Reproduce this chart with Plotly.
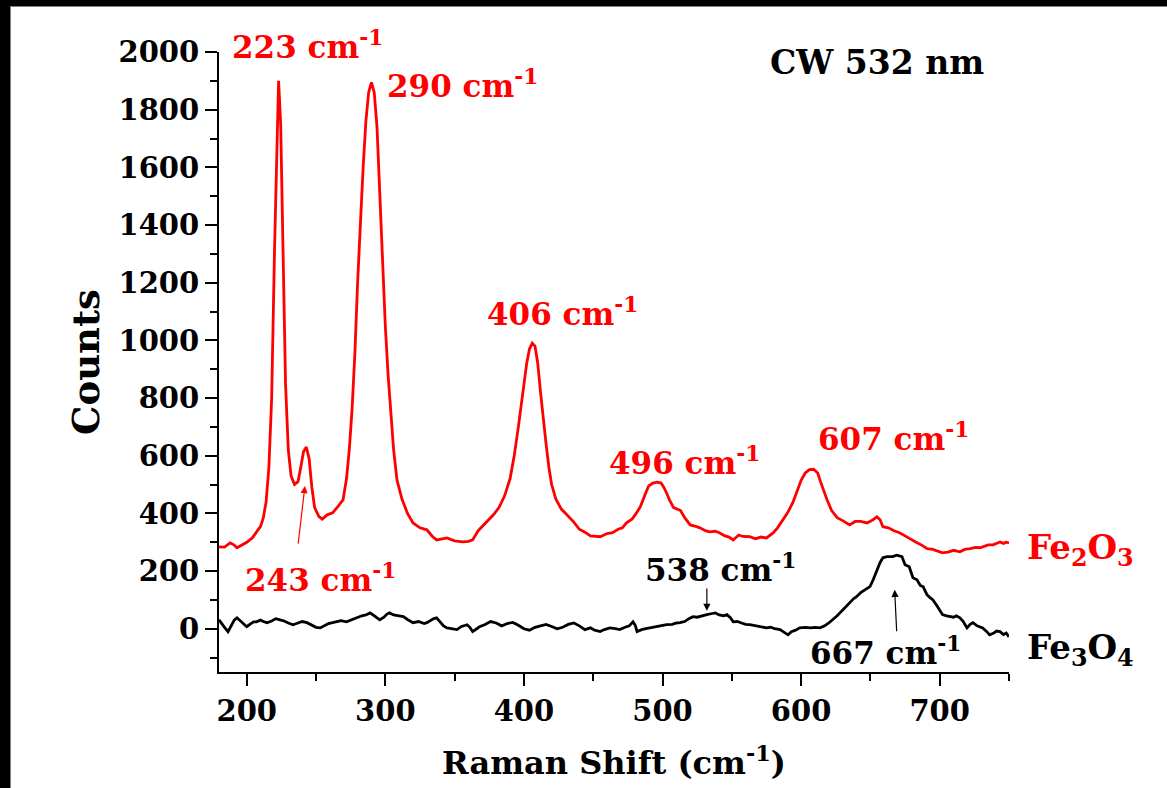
import plotly.graph_objects as go

# Raman spectra (Raman shift in cm^-1, counts)
x_fe2o3 = [180, 184, 188, 191, 193, 196, 200, 204, 207, 210, 212, 214, 216, 218, 220, 221.5, 223, 224.5, 226, 228,
           230, 232, 234.5, 237, 239, 241, 243, 245, 247, 249, 252, 254.5, 258, 262, 266, 269.5, 272, 274, 276, 278,
           280, 282, 284, 286, 288, 290, 292, 294, 296, 298, 300, 302, 304, 306, 308.4, 312, 316, 320, 325, 330,
           334, 337, 341, 344.5, 350, 356, 360, 363, 367, 370, 374, 378, 382, 386, 390, 393, 396, 399, 402, 404,
           406, 408, 410, 412, 414, 416, 418, 420, 423, 427, 431, 436, 440, 444, 448, 452, 455, 460, 464, 468,
           471, 474, 478, 481, 484, 487, 490, 493, 496, 499, 501, 503, 505, 508, 511, 513, 516, 520, 524, 527,
           531, 534, 538, 541, 545, 548, 551, 555, 558, 563, 567, 571, 575, 578, 580, 583, 587, 590, 594, 597,
           600, 603, 606, 609, 612, 614, 616, 618.7, 622, 626, 630, 635, 639, 643, 647.5, 651, 654.7, 657, 659, 663,
           667, 671, 675, 679, 683, 687, 691, 695, 699, 702, 706, 710, 714.6, 718, 722, 726, 729, 732, 735, 738.5,
           741, 743.5, 746, 748, 750]
y_fe2o3 = [284, 283, 298, 290, 281, 288, 300, 315, 335, 355, 385, 440, 560, 800, 1300, 1650, 1900, 1750, 1300, 850,
           620, 530, 500, 510, 560, 615, 630, 590, 490, 420, 390, 380, 395, 402, 425, 447, 520, 620, 760, 950,
           1200, 1420, 1600, 1760, 1860, 1895, 1860, 1740, 1520, 1250, 1050, 880, 740, 620, 516, 450, 400, 367, 350, 343,
           320, 308, 312, 315, 305, 301, 303, 308, 340, 355, 375, 395, 420, 460, 520, 600, 700, 810, 920, 970,
           990, 980, 920, 820, 720, 640, 560, 500, 450, 415, 395, 370, 345, 335, 322, 320, 319, 330, 333, 345,
           350, 367, 380, 400, 423, 460, 495, 505, 508, 505, 490, 470, 447, 420, 415, 410, 385, 360, 355, 350,
           340, 336, 338, 333, 322, 318, 308, 325, 320, 319, 312, 318, 315, 326, 333, 350, 378, 400, 437, 480,
           515, 540, 552, 553, 540, 510, 480, 447, 410, 385, 375, 360, 372, 372, 367, 375, 388, 378, 354, 350,
           340, 333, 322, 310, 300, 290, 278, 275, 268, 263, 266, 272, 267, 275, 278, 282, 281, 287, 291, 291,
           297, 301, 296, 300, 298]

x_fe3o4 = [180, 182, 184, 186.5, 189, 191, 193, 196, 198, 200, 203, 205, 207, 210, 212, 214.6, 218, 221, 224, 227,
           230, 233.4, 236, 240, 243.5, 246, 248, 250, 253, 256, 259, 262, 265, 268, 272, 275, 279.6, 283, 286, 289,
           292, 294, 296, 299, 301, 303, 306, 310, 313, 316, 318, 320, 324, 328, 330, 333, 335, 337, 340, 342,
           344.5, 348, 351.7, 355, 359, 361, 363, 366, 368, 372, 376, 380, 384, 388, 392, 396, 400, 404, 408, 412,
           416, 420, 424, 428, 432, 436, 440, 444, 448, 451, 455, 458, 462, 466, 469, 473, 476, 478.7, 480.5, 481.6,
           485, 488, 491, 495, 499, 503, 507, 510, 512.6, 516, 519, 522, 525, 528, 532, 535, 538, 541, 544, 546.5,
           549, 551, 554, 557, 560, 563, 567, 571, 575, 578, 581, 584.8, 587, 590.5, 593, 596, 599, 603, 607, 610,
           613.6, 617, 620, 623, 626, 628, 630, 633, 636, 638, 640, 643, 646, 649.7, 652, 654.7, 657, 659, 662, 666,
           669, 672.8, 675, 678, 680.7, 683.6, 686, 688, 690.8, 693, 695, 698, 700, 702, 705, 707, 710, 712, 714.6,
           717, 719.7, 722, 724, 727, 731, 734, 736, 739, 741, 743.5, 746, 748, 750]
y_fe3o4 = [31, 20, 5, -10, 15, 30, 38, 25, 15, 7, 18, 24, 24, 30, 25, 21, 27, 35, 31, 27,
           20, 14, 18, 25, 21, 15, 10, 5, 3, 10, 18, 21, 25, 28, 24, 30, 38, 45, 48, 55,
           45, 38, 31, 40, 50, 55, 48, 45, 42, 32, 25, 21, 25, 18, 21, 30, 35, 38, 20, 10,
           3, 0, -3, 8, 14, 5, -10, 0, 7, 15, 25, 20, 10, 18, 22, 12, 0, -5, 5, 10,
           15, 8, 0, 5, 15, 20, 10, -3, 3, -5, -10, -3, 3, 0, -3, 5, 10, 24, 10, -10,
           -3, 0, 3, 8, 12, 14, 15, 20, 21, 25, 35, 42, 40, 45, 49, 52, 55, 48, 45, 49,
           38, 24, 25, 20, 15, 14, 10, 8, 3, 5, 0, -3, -10, -21, -10, -5, 3, 5, 3, 5,
           3, 10, 20, 31, 45, 55, 66, 80, 95, 105, 111, 125, 135, 146, 170, 204, 230, 246, 250, 250,
           255, 250, 222, 215, 177, 170, 150, 146, 118, 108, 101, 80, 65, 49, 45, 42, 40, 45, 38,
           25, 3, 15, 21, 10, 3, -10, -21, -15, -8, -10, -20, -15, -28]

y_ticks = [0, 200, 400, 600, 800, 1000, 1200, 1400, 1600, 1800, 2000]
x_ticks = [200, 300, 400, 500, 600, 700]

RED = "#ff0000"
BLACK = "#000000"
FONT = "DejaVu Serif"
LABEL_SIZE = 31

# Page and plot-area geometry in pixels
W, H = 1167, 788
L, R, T, B = 219, 158, 52, 116
pw, ph = W - L - R, H - T - B


def px_x(p):
    return (p - L) / pw


def px_y(p):
    return (H - B - p) / ph


fig = go.Figure()
fig.add_trace(go.Scatter(x=x_fe2o3, y=y_fe2o3, mode="lines",
                         line=dict(color=RED, width=2.8), showlegend=False))
fig.add_trace(go.Scatter(x=x_fe3o4, y=y_fe3o4, mode="lines",
                         line=dict(color=BLACK, width=2.8), showlegend=False))

axis_common = dict(
    showgrid=False, zeroline=False, showline=True, linecolor=BLACK, linewidth=2,
    ticks="outside", ticklen=12, tickwidth=2, tickcolor=BLACK,
    tickfont=dict(family=FONT, size=29, color=BLACK, weight="bold"),
    mirror=False,
)

fig.update_xaxes(range=[180, 750], tickvals=x_ticks,
                 minor=dict(dtick=50, tick0=0, ticks="outside", ticklen=7, tickwidth=2, tickcolor=BLACK),
                 title=dict(text="Raman Shift (cm<sup>-1</sup>)", standoff=25,
                            font=dict(family=FONT, size=32, color=BLACK, weight="bold")),
                 **axis_common)
fig.update_yaxes(range=[-150, 2000], tickvals=y_ticks,
                 minor=dict(dtick=100, tick0=0, ticks="outside", ticklen=7, tickwidth=2, tickcolor=BLACK),
                 title=dict(text="Counts", standoff=8,
                            font=dict(family=FONT, size=37, color=BLACK, weight="bold")),
                 **axis_common)


def label(text, x, y, color, xref="x", yref="y", size=LABEL_SIZE):
    fig.add_annotation(text=text, x=x, y=y, xref=xref, yref=yref, showarrow=False,
                       xanchor="left", yanchor="middle",
                       font=dict(family=FONT, size=size, color=color, weight="bold"))


def arrow(x_head, y_head, x_tail, y_tail, color):
    fig.add_annotation(text="", x=x_head, y=y_head, ax=x_tail, ay=y_tail,
                       xref="x", yref="y", axref="x", ayref="y",
                       showarrow=True, arrowhead=2, arrowsize=1.2, arrowwidth=1.2,
                       arrowcolor=color)


# Peak labels
label("223 cm<sup>-1</sup>", 188, px_y(45), RED, yref="paper")
label("290 cm<sup>-1</sup>", 300, 1890, RED)
label("406 cm<sup>-1</sup>", 372, 1100, RED)
label("496 cm<sup>-1</sup>", 460, 582, RED)
label("607 cm<sup>-1</sup>", 611, 664, RED)
label("243 cm<sup>-1</sup>", 197, 177, RED)
label("538 cm<sup>-1</sup>", 486, 212, BLACK)
label("667 cm<sup>-1</sup>", 605, -76, BLACK)
label("CW 532 nm", 576, 1962, BLACK, size=33)

# Sample labels at the right end of the traces
label("Fe<sub>2</sub>O<sub>3</sub>", 1.02, 274, RED, xref="paper", size=34)
label("Fe<sub>3</sub>O<sub>4</sub>", 1.02, -73, BLACK, xref="paper", size=34)

# Arrows pointing to the weaker bands
arrow(242, 495, 237, 290, RED)
arrow(532, 62, 532, 145, BLACK)
arrow(667.5, 135, 669, -14, BLACK)

# Page frame: dark bands on the left and top edges
fig.add_shape(type="rect", xref="paper", yref="paper",
              x0=px_x(0), x1=px_x(10), y0=px_y(H), y1=px_y(0),
              fillcolor=BLACK, line=dict(width=0), layer="below")
fig.add_shape(type="rect", xref="paper", yref="paper",
              x0=px_x(0), x1=px_x(W), y0=px_y(6), y1=px_y(0),
              fillcolor=BLACK, line=dict(width=0), layer="below")
fig.add_shape(type="line", xref="paper", yref="paper",
              x0=px_x(10.5), x1=px_x(10.5), y0=px_y(H), y1=px_y(6),
              line=dict(color="#808080", width=1), layer="below")
fig.add_shape(type="line", xref="paper", yref="paper",
              x0=px_x(10), x1=px_x(W), y0=px_y(6.5), y1=px_y(6.5),
              line=dict(color="#808080", width=1), layer="below")

fig.update_layout(
    width=W, height=H,
    margin=dict(l=L, r=R, t=T, b=B, pad=0),
    paper_bgcolor="white", plot_bgcolor="white",
    showlegend=False,
)

fig.write_html("out.html")
